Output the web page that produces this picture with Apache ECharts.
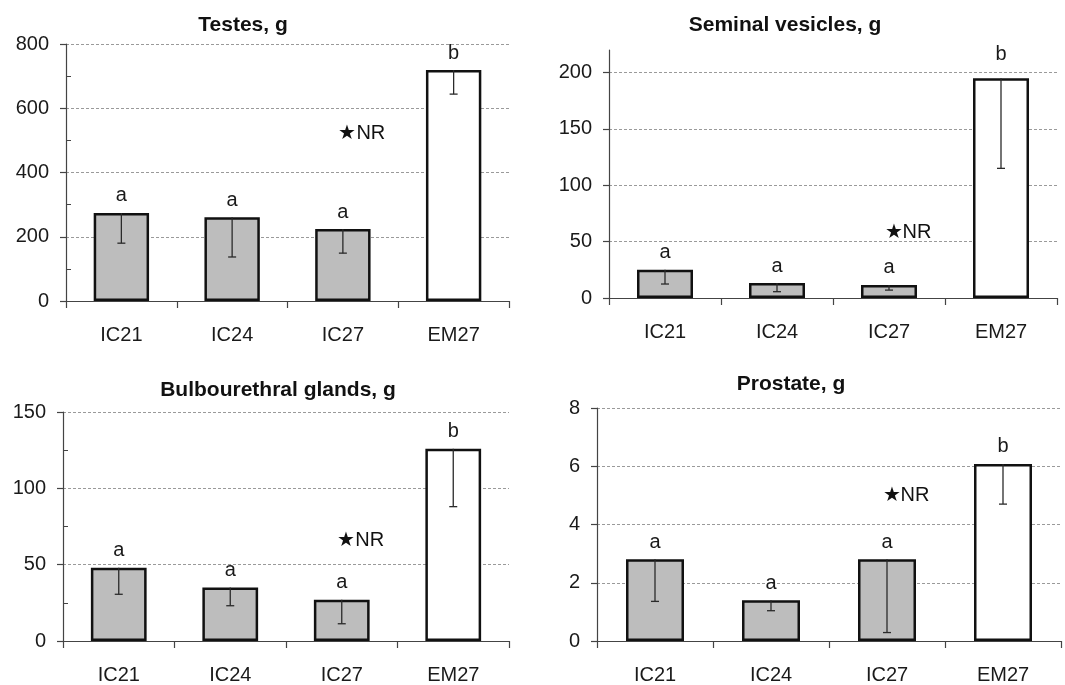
<!DOCTYPE html>
<html>
<head>
<meta charset="utf-8">
<script src="https://cdn.jsdelivr.net/npm/echarts@6/dist/echarts.min.js"></script>
<style>html,body{margin:0;padding:0;background:#fff}#c{width:1065px;height:685px}</style>
</head>
<body>
<div id="c"></div>
<script>
// ---- data ----
const categories = ['IC21', 'IC24', 'IC27', 'EM27'];
const letters = ['a', 'a', 'a', 'b'];
const titles = ['Testes, g', 'Seminal vesicles, g', 'Bulbourethral glands, g', 'Prostate, g'];

const testesMean = [274, 261, 224, 719];
const testesLow = [180, 137, 149, 644];
const seminalMean = [25, 13.3, 11.6, 195];
const seminalLow = [12.4, 5.6, 7, 115];
const bulboMean = [48, 35, 27, 126];
const bulboLow = [30.6, 23.1, 11.3, 88];
const prostateMean = [2.81, 1.40, 2.81, 6.08];
const prostateLow = [1.36, 1.04, 0.29, 4.70];

const nrCategory = 'IC27';
const nrValues = [520, 58, 66, 5.0];

const testesTicks = [0, 200, 400, 600, 800];
const seminalTicks = [0, 50, 100, 150, 200];
const bulboTicks = [0, 50, 100, 150];
const prostateTicks = [0, 2, 4, 6, 8];

const means = [testesMean, seminalMean, bulboMean, prostateMean];
const lows = [testesLow, seminalLow, bulboLow, prostateLow];
const ticks = [testesTicks, seminalTicks, bulboTicks, prostateTicks];
const axisMax = [800, 220, 150, 8];
const axisInterval = [200, 50, 50, 2];
const hasMinor = [true, false, true, false];

// ---- layout ----
const grids = [
  { left: 66, top: 44, width: 443, height: 257 },
  { left: 609, top: 50, width: 448, height: 248 },
  { left: 63, top: 412, width: 446, height: 229 },
  { left: 597, top: 408, width: 464, height: 233 }
];
const titlePos = [[243, 25], [785, 25], [278, 390], [791, 384]];
const letterDistance = [7, 14, 7, 7];

const FONT = '"Liberation Sans", Arial, Helvetica, sans-serif';
const axisColor = '#444';
const textColor = '#1a1a1a';

const option = {
  animation: false,
  backgroundColor: '#fff',
  grid: grids.map(g => Object.assign({ containLabel: false }, g)),
  xAxis: grids.map((g, i) => ({
    type: 'category',
    gridIndex: i,
    data: categories,
    axisLine: { lineStyle: { color: axisColor, width: 1.2 } },
    axisTick: { show: true, length: 7, lineStyle: { color: axisColor, width: 1.2 } },
    axisLabel: { color: textColor, fontSize: 20, fontFamily: FONT, margin: 24 },
    splitLine: { show: false }
  })),
  yAxis: grids.map((g, i) => {
    const splitColors = ticks[i].map(() => '#9a9a9a');
    if (axisMax[i] !== ticks[i][ticks[i].length - 1]) splitColors.push('rgba(0,0,0,0)');
    return {
      type: 'value',
      gridIndex: i,
      min: 0,
      max: axisMax[i],
      interval: axisInterval[i],
      axisLine: { show: true, lineStyle: { color: axisColor, width: 1.2 } },
      axisTick: { show: true, length: 6, customValues: ticks[i], lineStyle: { color: axisColor, width: 1.2 } },
      minorTick: { show: hasMinor[i], splitNumber: 2, length: -5, lineStyle: { color: axisColor, width: 1 } },
      axisLabel: { color: textColor, fontSize: 20, fontFamily: FONT, margin: 17, customValues: ticks[i] },
      splitLine: { show: true, lineStyle: { color: splitColors, type: [3, 2], width: 1 } }
    };
  }),
  graphic: titles.map((t, i) => ({
    type: 'text',
    x: titlePos[i][0],
    y: titlePos[i][1],
    style: {
      text: t,
      fill: '#111',
      font: 'bold 21px ' + FONT,
      textAlign: 'center',
      textVerticalAlign: 'middle'
    }
  })),
  series: []
};

for (let i = 0; i < 4; i++) {
  option.series.push({
    type: 'bar',
    xAxisIndex: i,
    yAxisIndex: i,
    barWidth: '50%',
    data: means[i].map((m, k) => (k === 3 ? { value: m, label: { distance: letterDistance[i] } } : m)),
    itemStyle: {
      color: p => (p.dataIndex === 3 ? '#ffffff' : '#bdbdbd'),
      borderColor: '#111',
      borderWidth: 2.5
    },
    label: {
      show: true,
      position: 'top',
      distance: 7,
      formatter: p => letters[p.dataIndex],
      color: textColor,
      fontSize: 20,
      fontFamily: FONT
    },
    z: 2
  });
  option.series.push({
    type: 'custom',
    xAxisIndex: i,
    yAxisIndex: i,
    data: means[i].map((m, k) => [k, m, lows[i][k]]),
    renderItem: (params, api) => {
      const top = api.coord([api.value(0), api.value(1)]);
      const bot = api.coord([api.value(0), api.value(2)]);
      const half = 4;
      const st = { stroke: '#2a2a2a', lineWidth: 1.3 };
      return {
        type: 'group',
        children: [
          { type: 'line', shape: { x1: top[0], y1: top[1], x2: bot[0], y2: bot[1] }, style: st },
          { type: 'line', shape: { x1: bot[0] - half, y1: bot[1], x2: bot[0] + half, y2: bot[1] }, style: st }
        ]
      };
    },
    z: 5
  });
  option.series.push({
    type: 'scatter',
    xAxisIndex: i,
    yAxisIndex: i,
    symbol: 'circle',
    symbolSize: 1,
    itemStyle: { opacity: 1, color: 'rgba(255,255,255,0)' },
    data: [[nrCategory, nrValues[i]]],
    label: {
      show: true,
      position: 'right',
      distance: -5,
      formatter: '★NR',
      color: '#111',
      fontSize: 20,
      fontFamily: FONT
    },
    z: 6
  });
}

const chart = echarts.init(document.getElementById('c'), null, { renderer: 'canvas' });
chart.setOption(option);
</script>
</body>
</html>
